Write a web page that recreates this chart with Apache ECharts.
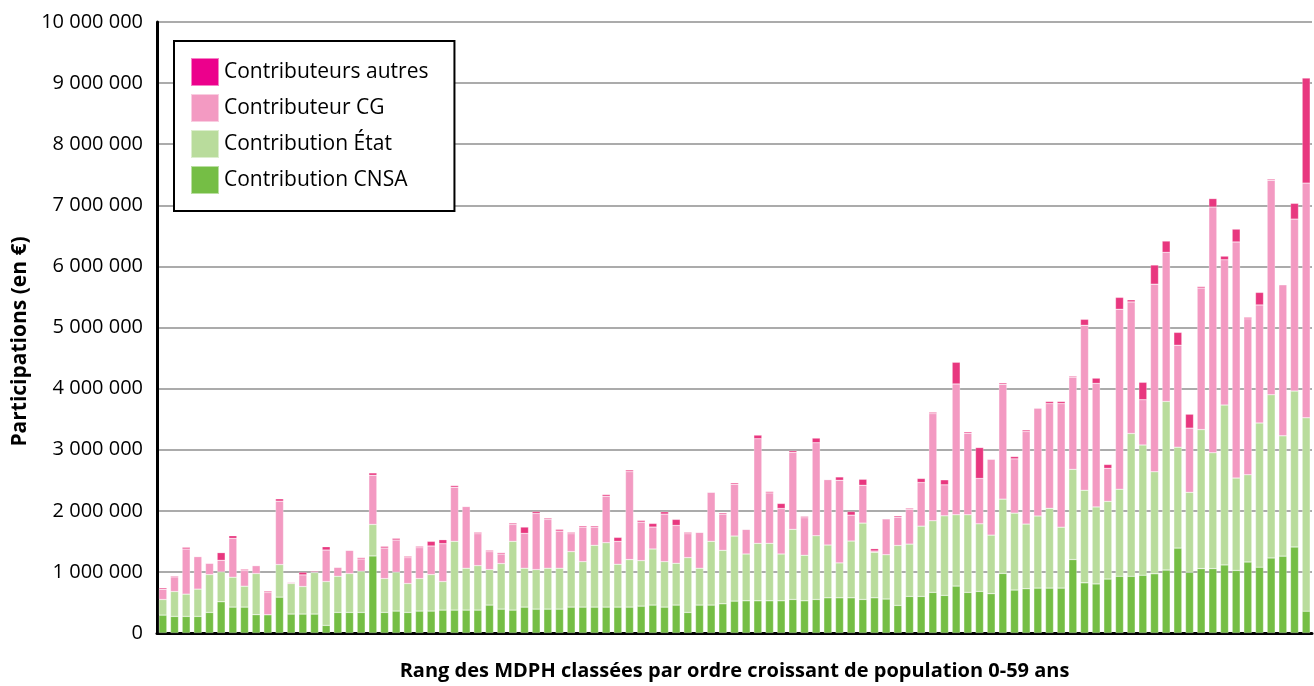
<!DOCTYPE html>
<html>
<head>
<meta charset="utf-8">
<script src="https://cdn.jsdelivr.net/npm/echarts@6/dist/echarts.min.js"></script>
<style>
html,body{margin:0;padding:0;background:#fff;}
#chart{width:1314px;height:686px;}
</style>
</head>
<body>
<div id="chart"></div>
<script>
// Rang des MDPH (1..99)
const categories = Array.from({length: 99}, (_, i) => String(i + 1));

const seriesNames = ['Contribution CNSA', 'Contribution État', 'Contributeur CG', 'Contributeurs autres'];

const cnsa = [293000,272000,272000,272000,337000,511000,424000,424000,299000,299000,
587000,310000,310000,310000,125000,337000,337000,337000,1261000,337000,
359000,337000,359000,359000,375000,375000,375000,375000,457000,391000,
375000,424000,391000,391000,391000,424000,424000,424000,424000,424000,
424000,440000,457000,424000,457000,337000,457000,457000,478000,522000,
527000,527000,527000,527000,549000,527000,549000,576000,576000,576000,
549000,576000,556000,452000,599000,599000,665000,616000,768000,665000,
681000,643000,975000,703000,725000,735000,735000,735000,1202000,821000,
803000,883000,929000,929000,946000,969000,1030000,1390000,994000,1054000,
1054000,1114000,1024000,1162000,1078000,1228000,1258000,1408000,358000];

const etat = [255000,407000,364000,446000,620000,489000,489000,342000,674000,0,
533000,500000,451000,679000,717000,592000,636000,674000,516000,554000,
636000,473000,532000,598000,467000,1125000,685000,728000,581000,745000,
1125000,636000,647000,669000,669000,908000,744000,1011000,1054000,701000,
777000,745000,918000,744000,684000,897000,603000,1043000,875000,1065000,
766000,940000,940000,766000,1147000,745000,1043000,864000,571000,929000,
1250000,745000,725000,981000,856000,1150000,1172000,1302000,1167000,1270000,
1106000,959000,1216000,1259000,1058000,1180000,1305000,997000,1476000,1515000,
1260000,1271000,1424000,2336000,2131000,1669000,2760000,1651000,1308000,2275000,
1896000,2617000,1512000,1428000,2359000,2672000,1969000,2551000,3163000];

const cg = [168000,239000,739000,533000,185000,190000,636000,256000,130000,364000,
1038000,16000,190000,10000,516000,147000,380000,201000,805000,500000,
527000,424000,506000,467000,620000,886000,1011000,522000,294000,157000,
277000,570000,919000,799000,608000,293000,566000,299000,761000,375000,
1440000,630000,359000,778000,620000,391000,587000,804000,593000,848000,
403000,1712000,826000,745000,1261000,614000,1522000,1071000,1353000,424000,
619000,21000,588000,463000,572000,714000,1754000,507000,2141000,1335000,
742000,1243000,1880000,888000,1515000,1766000,1715000,2023000,1510000,2701000,
2022000,541000,2946000,2154000,741000,3071000,2440000,1669000,1051000,2317000,
4022000,2377000,3864000,2552000,1932000,3510000,2473000,2815000,3842000];

const autres = [22000,16000,27000,0,0,125000,43000,21000,0,22000,
38000,10000,44000,16000,54000,0,0,22000,38000,27000,
27000,21000,21000,76000,65000,27000,0,22000,21000,22000,
22000,104000,32000,21000,28000,22000,21000,21000,27000,65000,
27000,27000,59000,38000,98000,22000,0,0,21000,22000,
0,60000,22000,82000,27000,22000,76000,0,54000,60000,
98000,38000,0,22000,17000,66000,22000,82000,355000,22000,
506000,0,22000,38000,25000,0,34000,34000,17000,97000,
86000,63000,194000,34000,285000,314000,185000,210000,228000,24000,
138000,60000,210000,24000,205000,18000,0,258000,1720000];

const yTickValues = [0,1000000,2000000,3000000,4000000,5000000,6000000,7000000,8000000,9000000,10000000];
const yTickLabels = ['0','1 000 000','2 000 000','3 000 000','4 000 000','5 000 000','6 000 000','7 000 000','8 000 000','9 000 000','10 000 000'];

const barColors = ['#75BE45', '#B9DC9C', '#F39AC2', '#E8377F'];
const legendColors = {'Contributeurs autres':'#EC008C','Contributeur CG':'#F39AC2','Contribution État':'#B9DC9C','Contribution CNSA':'#75BE45'};

const FONT = '"Open Sans", "Noto Sans", sans-serif';
const dataSets = [cnsa, etat, cg, autres];

const chart = echarts.init(document.getElementById('chart'), null, {renderer: 'canvas'});
chart.setOption({
  animation: false,
  textStyle: {fontFamily: FONT},
  grid: {left: 157, right: 2, top: 22, bottom: 53, containLabel: false, outerBoundsMode: 'none'},
  legend: {
    left: 174, top: 41, orient: 'vertical',
    padding: [16, 26, 16, 16],
    borderColor: '#000', borderWidth: 2, backgroundColor: '#fff',
    itemWidth: 28, itemHeight: 28, itemGap: 6,
    icon: 'rect',
    textStyle: {fontFamily: FONT, fontSize: 21, color: '#000'},
    data: ['Contributeurs autres', 'Contributeur CG', 'Contribution État', 'Contribution CNSA'].map(n => ({name: n, itemStyle: {color: legendColors[n]}}))
  },
  xAxis: {
    type: 'category',
    data: categories,
    axisLine: {lineStyle: {color: '#000', width: 3}},
    axisTick: {show: false},
    axisLabel: {show: false},
    name: 'Rang des MDPH classées par ordre croissant de population 0-59 ans',
    nameLocation: 'middle',
    nameGap: 28,
    nameTextStyle: {fontFamily: FONT, fontSize: 20, fontWeight: 'bold', color: '#000'}
  },
  yAxis: {
    type: 'value',
    min: 0, max: 10000000, interval: 1000000,
    axisLine: {show: true, lineStyle: {color: '#000', width: 3}},
    axisTick: {show: false},
    axisLabel: {
      fontFamily: FONT, fontSize: 20, color: '#000', margin: 14,
      formatter: v => yTickLabels[yTickValues.indexOf(v)]
    },
    splitLine: {lineStyle: {color: '#ABABAB', width: 2}},
    name: 'Participations (en €)',
    nameLocation: 'middle',
    nameRotate: 90,
    nameGap: 115,
    nameTextStyle: {fontFamily: FONT, fontSize: 21, fontWeight: 'bold', color: '#000', padding: [0, 28, 0, 0]}
  },
  series: seriesNames.map((n, i) => ({
    name: n,
    type: 'bar',
    stack: 'total',
    barWidth: 8,
    itemStyle: {color: barColors[i], borderColor: 'rgba(255,255,255,0.5)', borderWidth: 0.5},
    data: dataSets[i]
  }))
});
</script>
</body>
</html>
